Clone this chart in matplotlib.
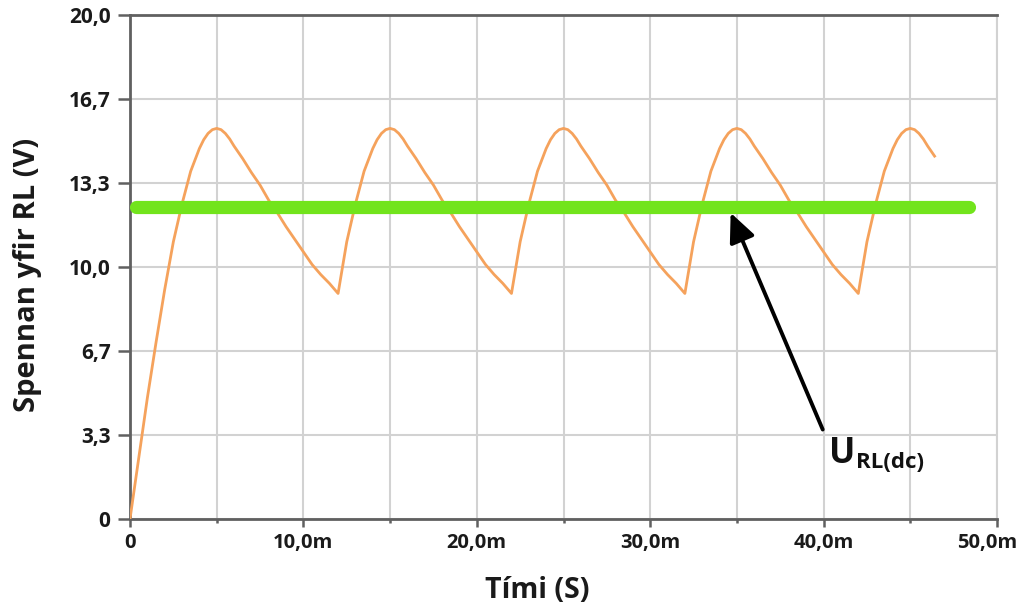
import matplotlib
matplotlib.use("Agg")
import matplotlib.pyplot as plt
import matplotlib.transforms as mtransforms
from matplotlib.ticker import FixedLocator

# ---- data ----
time_ms = [
    0, 0.5, 1, 1.5, 2, 2.5, 3, 3.5, 4, 4.25, 4.5, 4.75,
    5, 5.25, 5.5, 5.75, 6, 6.5, 7, 7.5, 8, 8.5, 9, 9.5, 10, 10.5, 11, 11.5, 12,
    12.5, 13, 13.5, 14, 14.25, 14.5, 14.75,
    15, 15.25, 15.5, 15.75, 16, 16.5, 17, 17.5, 18, 18.5, 19, 19.5, 20, 20.5, 21, 21.5, 22,
    22.5, 23, 23.5, 24, 24.25, 24.5, 24.75,
    25, 25.25, 25.5, 25.75, 26, 26.5, 27, 27.5, 28, 28.5, 29, 29.5, 30, 30.5, 31, 31.5, 32,
    32.5, 33, 33.5, 34, 34.25, 34.5, 34.75,
    35, 35.25, 35.5, 35.75, 36, 36.5, 37, 37.5, 38, 38.5, 39, 39.5, 40, 40.5, 41, 41.5, 42,
    42.5, 43, 43.5, 44, 44.25, 44.5, 44.75,
    45, 45.25, 45.5, 45.75, 46, 46.4]
voltage = [
    0, 2.4, 4.8, 7.0, 9.1, 11.0, 12.5, 13.8, 14.7, 15.05, 15.3, 15.45,
    15.5, 15.45, 15.3, 15.08, 14.8, 14.3, 13.75, 13.25, 12.65, 12.15, 11.6, 11.1, 10.6, 10.1, 9.7, 9.35, 8.95,
    11.0, 12.5, 13.8, 14.7, 15.05, 15.3, 15.45,
    15.5, 15.45, 15.3, 15.08, 14.8, 14.3, 13.75, 13.25, 12.65, 12.15, 11.6, 11.1, 10.6, 10.1, 9.7, 9.35, 8.95,
    11.0, 12.5, 13.8, 14.7, 15.05, 15.3, 15.45,
    15.5, 15.45, 15.3, 15.08, 14.8, 14.3, 13.75, 13.25, 12.65, 12.15, 11.6, 11.1, 10.6, 10.1, 9.7, 9.35, 8.95,
    11.0, 12.5, 13.8, 14.7, 15.05, 15.3, 15.45,
    15.5, 15.45, 15.3, 15.08, 14.8, 14.3, 13.75, 13.25, 12.65, 12.15, 11.6, 11.1, 10.6, 10.1, 9.7, 9.35, 8.95,
    11.0, 12.5, 13.8, 14.7, 15.05, 15.3, 15.45,
    15.5, 15.45, 15.3, 15.08, 14.8, 14.4]

dc_level = 12.38
dc_span = [0.35, 48.4]

x_ticks = [0, 10, 20, 30, 40, 50]
x_tick_labels = ["0", "10,0m", "20,0m", "30,0m", "40,0m", "50,0m"]
x_minor = [5, 15, 25, 35, 45]
y_ticks = [0, 10/3, 20/3, 10, 40/3, 50/3, 20]
y_tick_labels = ["0", "3,3", "6,7", "10,0", "13,3", "16,7", "20,0"]

arrow_tail = (39.95, 3.55)
arrow_head = (34.64, 12.15)

FONT = "Open Sans"

fig = plt.figure(figsize=(10.21, 6.12), dpi=100)
ax = fig.add_axes([130/1021, 1 - 519/612, (997-130)/1021, (519-15)/612])

ax.set_xlim(0, 50)
ax.set_ylim(0, 20)

# grid
ax.xaxis.set_major_locator(FixedLocator(x_ticks))
ax.xaxis.set_minor_locator(FixedLocator(x_minor))
ax.yaxis.set_major_locator(FixedLocator(y_ticks))
ax.grid(True, which="major", color="#d2d2d2", lw=1.5, zorder=0)
ax.grid(True, which="minor", axis="x", color="#d2d2d2", lw=1.5, zorder=0)
ax.set_axisbelow(True)

ax.set_xticklabels(x_tick_labels, fontsize=14.5, fontweight="bold", family=FONT, color="#1a1a1a")
ax.set_yticklabels(y_tick_labels, fontsize=15, fontweight="bold", family=FONT, color="#1a1a1a")
ax.tick_params(axis="y", which="major", length=9, width=1.8, color="#606060", pad=5)
ax.tick_params(axis="x", which="major", length=6, width=1.8, color="#606060", pad=4)
ax.tick_params(axis="x", which="minor", length=3, width=1.8, color="#606060")

# shift the last x tick label left so it stays inside the figure
last = ax.get_xticklabels()[-1]
last.set_transform(last.get_transform() +
                   mtransforms.ScaledTranslation(-10/100, 0, fig.dpi_scale_trans))

for s in ["left", "bottom", "top"]:
    ax.spines[s].set_color("#606060")
    ax.spines[s].set_linewidth(2.0)
ax.spines["right"].set_color("#d2d2d2")
ax.spines["right"].set_linewidth(1.5)

# curve
ax.plot(time_ms, voltage, color="#f5a25c", lw=2.0, zorder=3,
        solid_joinstyle="round")

# dc level
ax.plot(dc_span, [dc_level, dc_level], color="#72e41c", lw=9.5,
        solid_capstyle="round", zorder=4, clip_on=False)

# arrow
ax.annotate("", xy=arrow_head, xytext=arrow_tail,
            arrowprops=dict(arrowstyle="-|>,head_length=1.1,head_width=0.5",
                            color="black", lw=2.8, mutation_scale=16,
                            shrinkA=0, shrinkB=0), zorder=5)

ax.text(40.3, 2.22, "U", fontsize=25, fontweight="bold", family=FONT,
        color="#111111", va="baseline", ha="left")
ax.text(41.85, 2.02, "RL(dc)", fontsize=16, fontweight="bold", family=FONT,
        color="#111111", va="baseline", ha="left")

ax.set_xlabel("Tími (S)", fontsize=20.5, fontweight="bold", family=FONT, color="#1a1a1a")
ax.xaxis.set_label_coords(0.47, -0.141)
ax.xaxis.label.set_va("center")
ax.set_ylabel("Spennan yfir RL (V)", fontsize=21, fontweight="bold", family=FONT, color="#1a1a1a")
ax.yaxis.set_label_coords(-0.118, 0.484)
ax.yaxis.label.set_va("center")

fig.savefig("out.png", dpi=100)
